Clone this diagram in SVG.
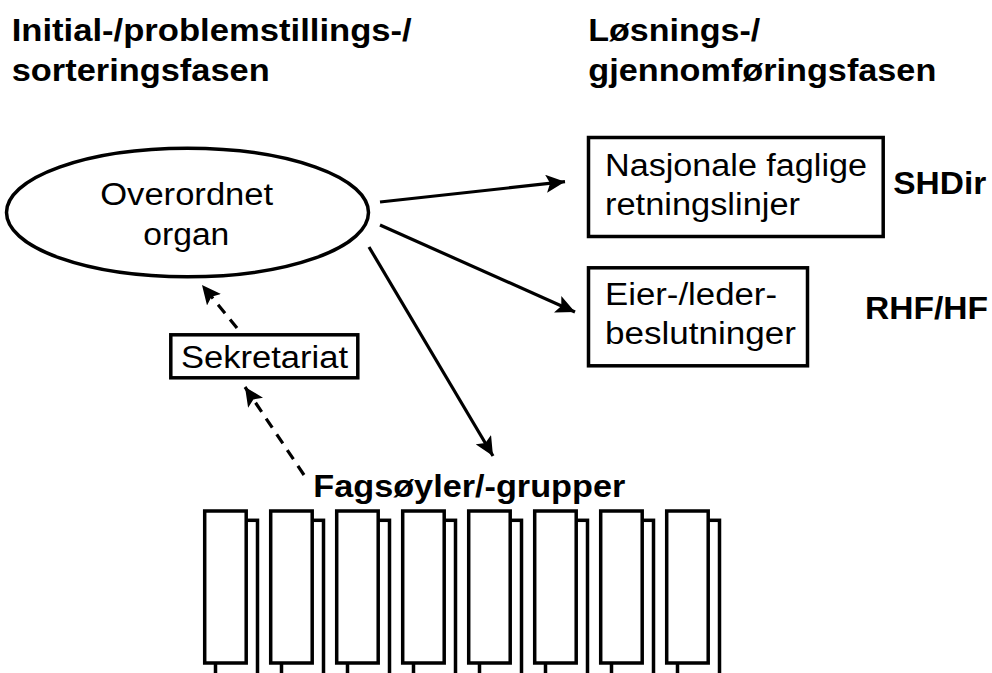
<svg xmlns="http://www.w3.org/2000/svg" width="992" height="673" viewBox="0 0 992 673">
<style>
.bg{fill:#ffffff}
.shape{fill:#ffffff;stroke:#000000;stroke-width:3.5}
.t{font-family:"Liberation Sans",Arial,sans-serif;font-size:31px;fill:#000000}
.b{font-weight:bold}
.h{font-size:32px}
.c{text-anchor:middle}
.conn{fill:none;stroke:#000000;stroke-width:3.2}
.dash{stroke-dasharray:11 8}
</style>
<defs>
<marker id="arr" markerUnits="userSpaceOnUse" markerWidth="20" markerHeight="18" refX="19" refY="9" orient="auto">
<path d="M0,0 L19,9 L0,18 L4,9 z" fill="#000000"/>
</marker>
<g id="col">
<rect class="shape" x="12.5" y="11" width="42" height="165"/>
<rect class="shape" x="1.7" y="1.7" width="41.5" height="152"/>
</g>
</defs>
<rect class="bg" x="0" y="0" width="992" height="673"/>

<g id="titles">
<text class="t b h" x="11.7" y="41" textLength="400" lengthAdjust="spacingAndGlyphs">Initial-/problemstillings-/</text>
<text class="t b h" x="11.7" y="81" textLength="258" lengthAdjust="spacingAndGlyphs">sorteringsfasen</text>
<text class="t b h" x="588.3" y="40.5" textLength="172" lengthAdjust="spacingAndGlyphs">Løsnings-/</text>
<text class="t b h" x="588.3" y="80.5" textLength="348" lengthAdjust="spacingAndGlyphs">gjennomføringsfasen</text>
</g>

<g id="connectors">
<line class="conn" x1="380" y1="202" x2="565" y2="181.7" marker-end="url(#arr)"/>
<line class="conn" x1="380" y1="225" x2="575" y2="312" marker-end="url(#arr)"/>
<line class="conn" x1="369" y1="247" x2="493" y2="456" marker-end="url(#arr)"/>
<line class="conn dash" x1="237" y1="328" x2="202" y2="285" marker-end="url(#arr)"/>
<line class="conn dash" x1="304" y1="475" x2="245" y2="387" marker-end="url(#arr)"/>
</g>

<g id="overordnet-organ">
<ellipse class="shape" cx="187.5" cy="212.5" rx="181" ry="64.3"/>
<text class="t c" x="186.7" y="205" textLength="173" lengthAdjust="spacingAndGlyphs">Overordnet</text>
<text class="t c" x="186.3" y="245" textLength="86" lengthAdjust="spacingAndGlyphs">organ</text>
</g>

<g id="sekretariat">
<rect class="shape" x="170.8" y="334.8" width="187" height="43"/>
<text class="t" x="181" y="368.3" textLength="167" lengthAdjust="spacingAndGlyphs">Sekretariat</text>
</g>

<g id="nasjonale-retningslinjer">
<rect class="shape" x="588.5" y="137.5" width="294.7" height="99"/>
<text class="t" x="605" y="176" textLength="262" lengthAdjust="spacingAndGlyphs">Nasjonale faglige</text>
<text class="t" x="605" y="215" textLength="195" lengthAdjust="spacingAndGlyphs">retningslinjer</text>
</g>

<g id="shdir">
<text class="t b" x="893.3" y="194" textLength="93" lengthAdjust="spacingAndGlyphs">SHDir</text>
</g>

<g id="eier-lederbeslutninger">
<rect class="shape" x="588.5" y="267.8" width="219" height="98"/>
<text class="t" x="605" y="305" textLength="172" lengthAdjust="spacingAndGlyphs">Eier-/leder-</text>
<text class="t" x="605" y="343.5" textLength="191" lengthAdjust="spacingAndGlyphs">beslutninger</text>
</g>

<g id="rhf-hf">
<text class="t b" x="865" y="319" textLength="123" lengthAdjust="spacingAndGlyphs">RHF/HF</text>
</g>

<g id="fagsoyler">
<text class="t b" x="313.3" y="496.7" textLength="312" lengthAdjust="spacingAndGlyphs">Fagsøyler/-grupper</text>
<use href="#col" x="203" y="509.3"/>
<use href="#col" x="269" y="509.3"/>
<use href="#col" x="335" y="509.3"/>
<use href="#col" x="401" y="509.3"/>
<use href="#col" x="467" y="509.3"/>
<use href="#col" x="533" y="509.3"/>
<use href="#col" x="599" y="509.3"/>
<use href="#col" x="665" y="509.3"/>
</g>
</svg>
